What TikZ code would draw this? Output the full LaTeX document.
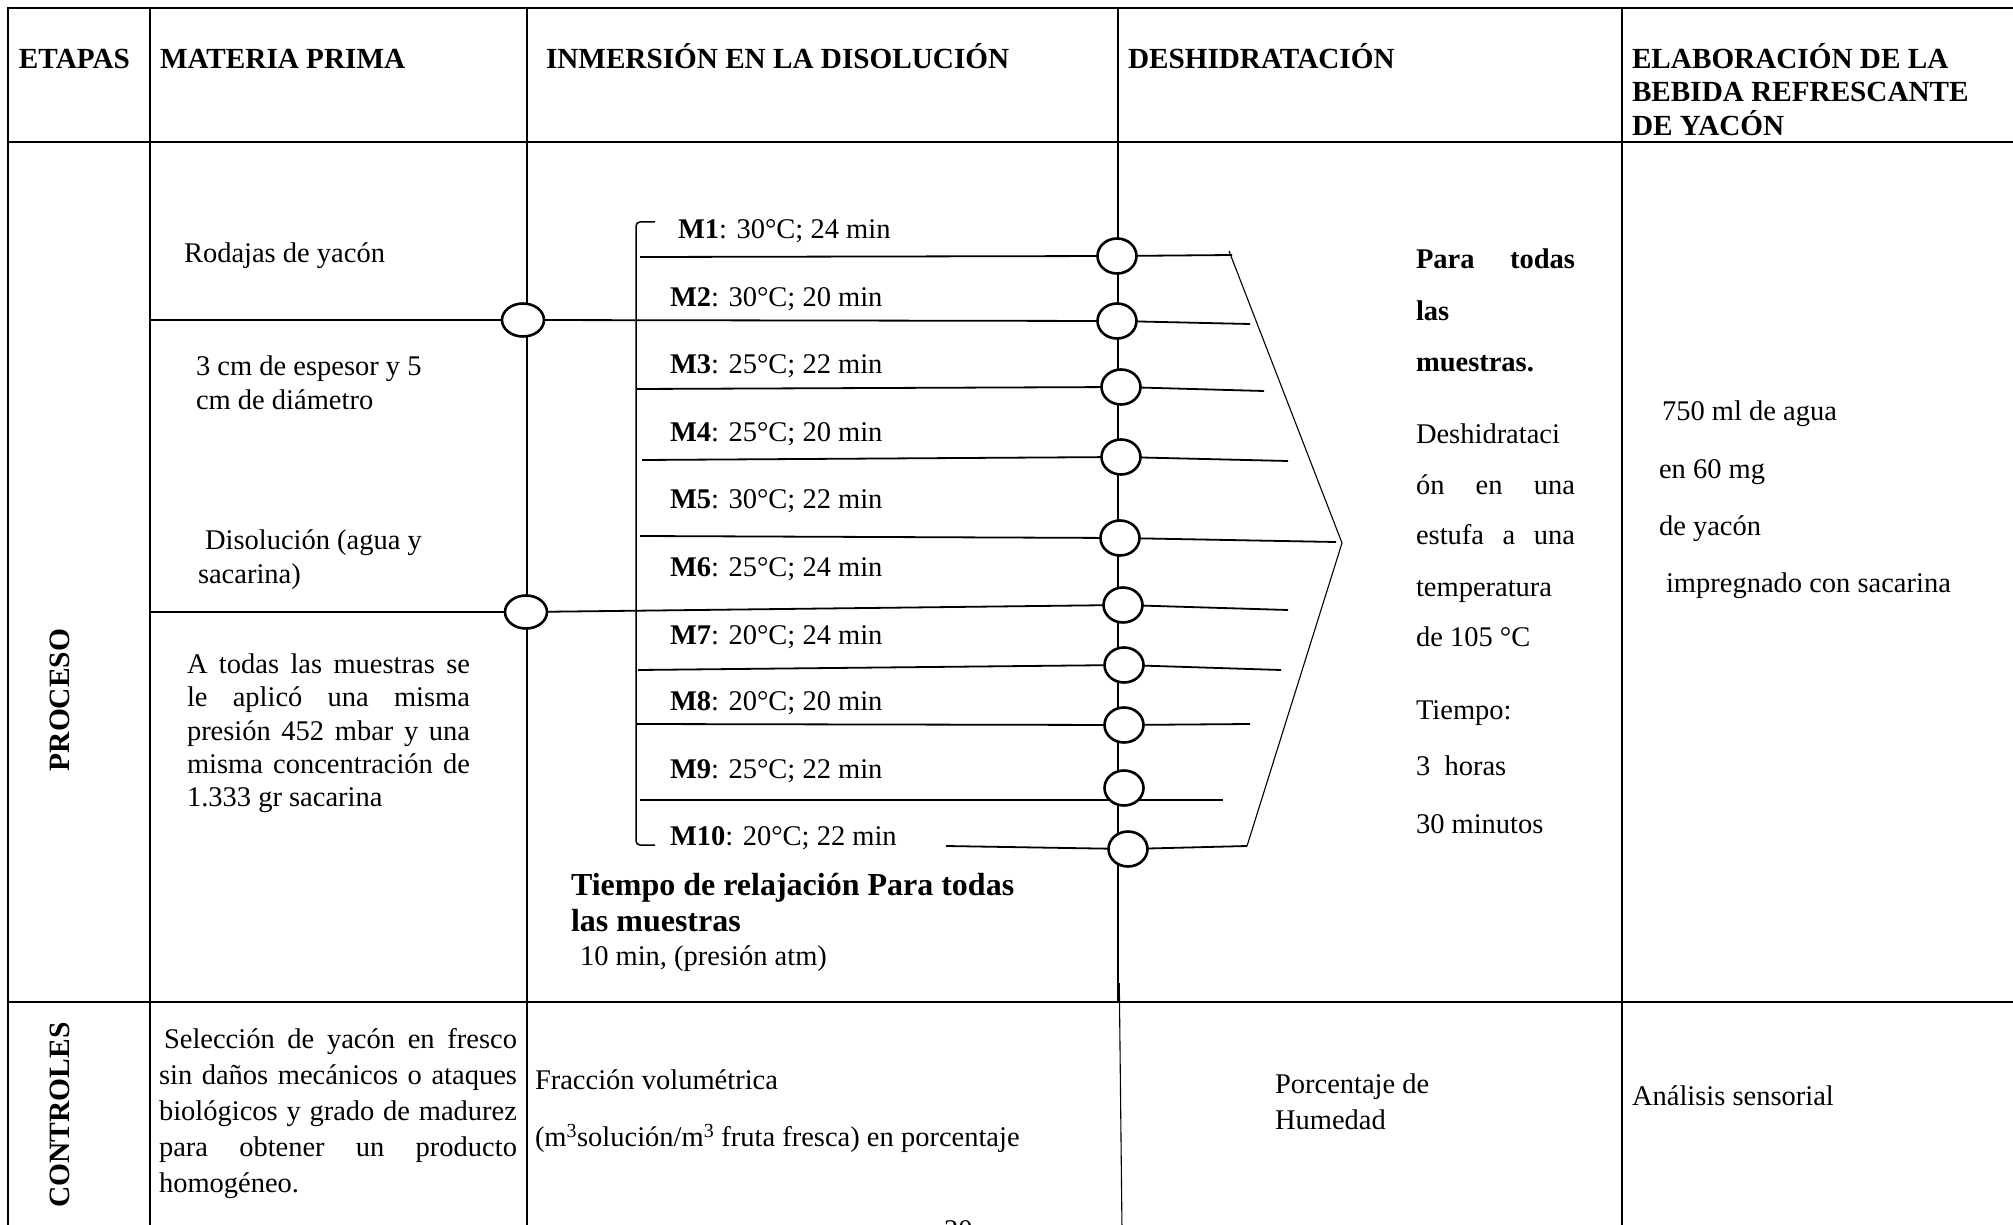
\documentclass[tikz,border=0pt]{standalone}
\usepackage{fontspec}
\setmainfont{Liberation Serif}
\usetikzlibrary{shapes.geometric,backgrounds}
\newcommand\tfs{\fontsize{28.5}{34}\selectfont}
\newcommand\hfs{\fontsize{29.2}{34}\selectfont\bfseries}
\newcommand\bigbf{\fontsize{32}{36}\selectfont\bfseries}
\newcommand\jline[2]{\hbox to #1pt{#2}}
\begin{document}
\begin{tikzpicture}[x=1pt,y=-1pt,
  every node/.style={inner sep=0pt,outer sep=0pt,font=\tfs},
  txt/.style={anchor=base west},
  hdr/.style={anchor=base west,font=\hfs},
  tbl/.style={line width=2.6pt},
  conn/.style={line width=1.8pt},
  fine/.style={line width=1.1pt},
  rc/.style={ellipse,draw,line width=2.6pt,fill=white,minimum width=39pt,minimum height=35pt},
  lc/.style={ellipse,draw,line width=2.6pt,fill=white,minimum width=42pt,minimum height=33pt}]
\useasboundingbox (0,0) rectangle (2013,1225);

% ---------- junction circles ----------
\node[lc] (A) at (523,320) {};
\node[lc] (B) at (526,612) {};
\node[rc] (c1) at (1117,256) {};
\node[rc] (c2) at (1117,321) {};
\node[rc] (c3) at (1121,387) {};
\node[rc] (c4) at (1121,457) {};
\node[rc] (c5) at (1120,538) {};
\node[rc] (c6) at (1123,605) {};
\node[rc] (c7) at (1124,665) {};
\node[rc] (c8) at (1124,725) {};
\node[rc] (c9) at (1124,788) {};
\node[rc] (c10) at (1128,849) {};

% ---------- connector end points ----------
\coordinate (a0) at (150,320);
\coordinate (b0) at (150,612);
\coordinate (l1s) at (640,257);  \coordinate (r1) at (1232,255);
\coordinate (r2) at (1250,324);
\coordinate (l3s) at (636,389);  \coordinate (r3) at (1264,391);
\coordinate (l4s) at (642,460);  \coordinate (r4) at (1288,461);
\coordinate (l5s) at (640,536);  \coordinate (r5) at (1336,542);
\coordinate (r6) at (1288,610);
\coordinate (l7s) at (638,670);  \coordinate (r7) at (1281,670);
\coordinate (l8s) at (636,724);  \coordinate (r8) at (1250,724);
\coordinate (l9s) at (640,800);  \coordinate (r9) at (1223,800);
\coordinate (l10s) at (946,846); \coordinate (r10) at (1247,846);
\coordinate (k1) at (1229,251);
\coordinate (apex) at (1342,543);
\coordinate (k2) at (1247,846);
\coordinate (brt) at (655,222);
\coordinate (brb) at (655,845);

\begin{scope}[on background layer]
\fill[white] (-5,-5) rectangle (2020,1230);
% table grid
\draw[tbl] (2020,8) -- (8,8) -- (8,1230);
\draw[tbl] (8,142) -- (2020,142);
\draw[tbl] (8,1002) -- (2020,1002);
\draw[tbl] (150,8) -- (150,1230);
\draw[tbl] (527,8) -- (527,1230);
\draw[tbl] (1118,8) -- (1118,1002);
\draw[tbl] (1622,8) -- (1622,1230);
\draw[fine] (1119.3,983) -- (1122,1230);
% connectors
\draw[tbl] (a0) -- (A);
\draw[tbl] (b0) -- (B);
\draw[conn] (l1s) -- (c1) -- (r1);
\draw[conn] (A) -- (c2) -- (r2);
\draw[conn] (l3s) -- (c3) -- (r3);
\draw[conn] (l4s) -- (c4) -- (r4);
\draw[conn] (l5s) -- (c5) -- (r5);
\draw[conn] (B) -- (c6) -- (r6);
\draw[conn] (l7s) -- (c7) -- (r7);
\draw[conn] (l8s) -- (c8) -- (r8);
\draw[conn] (l9s) -- (r9);
\draw[conn] (l10s) -- (c10) -- (r10);
% bracket and converging lines
\draw[line width=1.5pt,rounded corners=4pt] (brt) -- (636,222) -- (636,845) -- (brb);
\draw[fine] (k1) -- (apex) -- (k2);
\end{scope}

% ---------- header ----------
\node[hdr] (h1) at (19,68.5) {ETAPAS};
\node[hdr] (h2) at (160,68.5) {MATERIA PRIMA};
\node[hdr] (h3) at (546,68.5) {INMERSIÓN EN LA DISOLUCIÓN};
\node[hdr] (h4) at (1128,68.5) {DESHIDRATACIÓN};
\node[hdr] (h5a) at (1632,68.5) {ELABORACIÓN DE LA};
\node[hdr] (h5b) at (1632,102) {BEBIDA REFRESCANTE};
\node[hdr] (h5c) at (1632,135.3) {DE YACÓN};

% ---------- row labels ----------
\node[font=\fontsize{29.5}{34}\selectfont\bfseries,rotate=90] (proc) at (60,700) {PROCESO};
\node[font=\fontsize{29.5}{34}\selectfont\bfseries,rotate=90] (ctrl) at (60,1115) {CONTROLES};

% ---------- materia prima ----------
\node[txt] (p1) at (184,262.5) {Rodajas de yacón};
\node[txt] (p2) at (196,375.5) {3 cm de espesor y 5};
\node[txt] (p3) at (196,409.5) {cm de diámetro};
\node[txt] (p4) at (205,549.5) {Disolución (agua y};
\node[txt] (p5) at (198,583.5) {sacarina)};
\node[txt] (p6) at (187,673.5) {\jline{283}{A\hfill todas\hfill las\hfill muestras\hfill se}};
\node[txt] (p7) at (187,706.5) {\jline{283}{le\hfill aplicó\hfill una\hfill misma}};
\node[txt] (p8) at (187,740) {\jline{283}{presión\hfill 452\hfill mbar\hfill y\hfill una}};
\node[txt] (p9) at (187,773.5) {\jline{283}{misma\hfill concentración\hfill de}};
\node[txt] (p10) at (187,806.5) {1.333 gr sacarina};

% ---------- inmersion ----------
\node[txt] (m1) at (678,238) {\textbf{M1}: 30°C; 24 min};
\node[txt] (m2) at (670,306) {\textbf{M2}: 30°C; 20 min};
\node[txt] (m3) at (670,373) {\textbf{M3}: 25°C; 22 min};
\node[txt] (m4) at (670,441) {\textbf{M4}: 25°C; 20 min};
\node[txt] (m5) at (670,508) {\textbf{M5}: 30°C; 22 min};
\node[txt] (m6) at (670,576) {\textbf{M6}: 25°C; 24 min};
\node[txt] (m7) at (670,644) {\textbf{M7}: 20°C; 24 min};
\node[txt] (m8) at (670,710) {\textbf{M8}: 20°C; 20 min};
\node[txt] (m9) at (670,778) {\textbf{M9}: 25°C; 22 min};
\node[txt] (m10) at (670,845) {\textbf{M10}: 20°C; 22 min};
\node[txt,font=\bigbf] (tr1) at (571,895) {Tiempo de relajación Para todas};
\node[txt,font=\bigbf] (tr2) at (571,931) {las muestras};
\node[txt] (tr3) at (580,965.5) {10 min, (presión atm)};

% ---------- deshidratacion ----------
\node[txt,font=\tfs\bfseries] (d1) at (1416,268.5) {\jline{159}{Para\hfill todas}};
\node[txt,font=\tfs\bfseries] (d2) at (1416,320.5) {las};
\node[txt,font=\tfs\bfseries] (d3) at (1416,371.5) {muestras.};
\node[txt] (d4) at (1416,443.5) {Deshidrataci};
\node[txt] (d5) at (1416,494.5) {\jline{159}{ón\hfill en\hfill una}};
\node[txt] (d6) at (1416,544.5) {\jline{159}{estufa\hfill a\hfill una}};
\node[txt] (d7) at (1416,596.5) {temperatura};
\node[txt] (d8) at (1416,646.5) {de 105 °C};
\node[txt] (d9) at (1416,719.5) {Tiempo:};
\node[txt] (d10) at (1416,775.5) {3\ \ horas};
\node[txt] (d11) at (1416,833.5) {30 minutos};

% ---------- elaboracion ----------
\node[txt] (e1) at (1662,420.5) {750 ml de agua};
\node[txt] (e2) at (1659,478.5) {en 60 mg};
\node[txt] (e3) at (1659,535.5) {de yacón};
\node[txt] (e4) at (1666,592.5) {impregnado con sacarina};

% ---------- controles ----------
\node[txt] (s1) at (164,1048) {\jline{353}{Selección\hfill de\hfill yacón\hfill en\hfill fresco}};
\node[txt] (s2) at (159,1084) {\jline{358}{sin\hfill daños\hfill mecánicos\hfill o\hfill ataques}};
\node[txt] (s3) at (159,1120) {\jline{358}{biológicos\hfill y\hfill grado\hfill de\hfill madurez}};
\node[txt] (s4) at (159,1156) {\jline{358}{para\hfill obtener\hfill un\hfill producto}};
\node[txt] (s5) at (159,1192) {homogéneo.};
\node[txt] (f1) at (535,1089.5) {Fracción volumétrica};
\node[txt] (f2) at (535,1146.5) {(m\textsuperscript{3}solución/m\textsuperscript{3}\ fruta fresca) en porcentaje};
\node[txt] (hu1) at (1275,1093) {Porcentaje de};
\node[txt] (hu2) at (1275,1129) {Humedad};
\node[txt] (an) at (1632,1105.5) {Análisis sensorial};
\node[txt] (pg) at (944,1239) {20};
\end{tikzpicture}
\end{document}
